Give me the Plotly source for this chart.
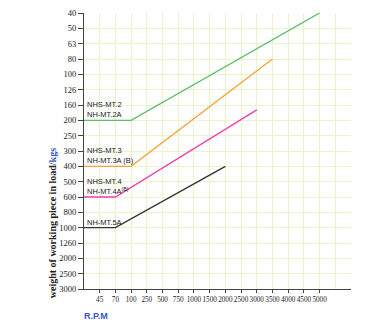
import numpy as np
import plotly.graph_objects as go

# ---- data ----
rpm_ticks = [45, 70, 100, 250, 500, 750, 1000, 1500, 2000, 2500, 3000, 3500, 4000, 4500, 5000]
load_ticks = [40, 50, 63, 80, 100, 126, 160, 200, 250, 300, 400, 500, 600, 800, 1000, 1260, 2000, 2500, 3000]

green_rpm = [0, 100, 5000]
green_load = [200, 200, 40]
orange_rpm = [0, 100, 3500]
orange_load = [400, 400, 80]
pink_rpm = [0, 70, 3000]
pink_load = [600, 600, 172]
black_rpm = [0, 70, 2000]
black_load = [1000, 1000, 400]

labels = {
    "green": "NHS-MT.2<br>NH-MT.2A",
    "orange": "NHS-MT.3<br>NH-MT.3A (B)",
    "pink": "NHS-MT.4<br>NH-MT.4A<sup>(B)</sup>",
    "black": "NH-MT.5A",
}

# ---- scale helpers (uneven tick series -> evenly spaced positions) ----
x_xp = [0] + rpm_ticks
x_fp = [-1] + list(range(len(rpm_ticks)))
y_xp = np.log(load_ticks)
y_fp = list(range(len(load_ticks)))


def xpos(v):
    return list(np.interp(v, x_xp, x_fp))


def ypos(v):
    return list(np.interp(np.log(v), y_xp, y_fp))


series = [
    ("green", green_rpm, green_load, "#5cbf6e"),
    ("orange", orange_rpm, orange_load, "#f7a33f"),
    ("pink", pink_rpm, pink_load, "#f23fb0"),
    ("black", black_rpm, black_load, "#333333"),
]

fig = go.Figure()
annotations = []
for name, r, l, c in series:
    xs, ys = xpos(r), ypos(l)
    fig.add_trace(go.Scatter(x=xs, y=ys, mode="lines",
                             line=dict(color=c, width=1.4), showlegend=False,
                             hoverinfo="skip"))
    annotations.append(dict(x=xs[0], y=ys[0], xref="x", yref="y",
                            text=labels[name], showarrow=False,
                            xanchor="left", yanchor="bottom", align="left",
                            xshift=1, yshift=-1,
                            font=dict(family="Liberation Sans", size=7.5, color="#1a1a1a")))

annotations.append(dict(x=-0.12, y=0.238, xref="paper", yref="paper",
                        text="<b>weight of working piece in load/<span style='color:#3355cc'>kgs</span></b>",
                        textangle=-90, showarrow=False, xanchor="center", yanchor="middle",
                        font=dict(family="Liberation Serif", size=10, color="#222222")))
annotations.append(dict(x=-0.008, y=-0.072, xref="paper", yref="paper", text="<b>R.P.M</b>",
                        showarrow=False, xanchor="left", yanchor="top",
                        font=dict(family="Liberation Sans", size=9, color="#3355cc")))

fig.update_layout(
    width=379, height=325,
    margin=dict(l=84, r=28, t=8, b=36),
    paper_bgcolor="white", plot_bgcolor="white",
    annotations=annotations,
)

grid_col = "#ebf2cc"
fig.update_xaxes(
    range=[-1, 16], tickvals=list(range(len(rpm_ticks))), ticktext=[str(v) for v in rpm_ticks],
    tickangle=0, ticks="outside", ticklen=3, tickcolor="#444444",
    showline=True, linecolor="#444444", linewidth=1.2,
    showgrid=True, gridcolor=grid_col, gridwidth=1, zeroline=False,
    minor=dict(dtick=1, tick0=0, showgrid=True, gridcolor=grid_col, ticks=""),
    tickfont=dict(family="Liberation Serif", size=7.2, color="#222222"),
)
fig.update_yaxes(
    range=[18, 0], tickvals=list(range(len(load_ticks))), ticktext=[str(v) for v in load_ticks],
    ticks="outside", ticklen=5, tickcolor="#444444",
    showline=True, linecolor="#444444", linewidth=1.2,
    showgrid=True, gridcolor=grid_col, gridwidth=1, zeroline=False,
    tickfont=dict(family="Liberation Serif", size=8.5, color="#222222"),
)

fig.write_html("out.html")
